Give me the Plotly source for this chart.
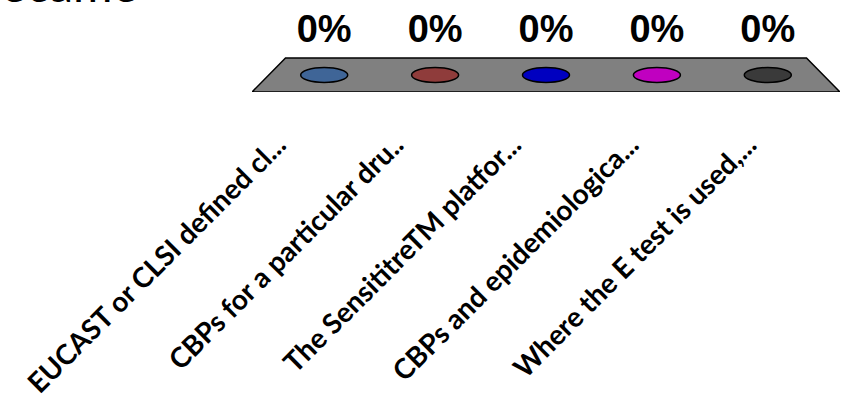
import plotly.graph_objects as go

# Answer options (truncated as shown on the slide) and the share of votes each received
categories = [
    "EUCAST or CLSI defined cl...",
    "CBPs for a particular dru..",
    "The SensititreTM platfor...",
    "CBPs and epidemiologica...",
    "Where the E test is used,...",
]
values = [0, 0, 0, 0, 0]
bar_colors = ["#3F6597", "#8F3C3B", "#0000C0", "#C000C0", "#3A3A3A"]
title_fragment = "became"

n = len(categories)
center = (n - 1) / 2
back_ratio = 0.886          # width of the floor's back edge relative to its front edge
mid_ratio = (1 + back_ratio) / 2
floor_depth = 34            # vertical extent of the floor (y units)
bar_scale = 0.5             # y units per percentage point
cap_w, cap_h = 0.2, 7.5     # half-width / half-height of the cylinder tops

fig = go.Figure()

# Perspective floor
fx = [-0.5, n - 0.5, center + (n / 2) * back_ratio, center - (n / 2) * back_ratio, -0.5]
fy = [0, 0, floor_depth, floor_depth, 0]
fig.add_trace(go.Scatter(
    x=fx, y=fy, mode="lines", fill="toself", fillcolor="#808080",
    line=dict(color="black", width=1.5), hoverinfo="skip", showlegend=False,
))

# Cylinder tops (bars at 0% collapse to their top ellipse)
xc = [center + (i - center) * mid_ratio for i in range(n)]
yc = [floor_depth / 2 + v * bar_scale for v in values]
for x, y, c in zip(xc, yc, bar_colors):
    fig.add_shape(
        type="circle", xref="x", yref="y",
        x0=x - cap_w, x1=x + cap_w, y0=y - cap_h, y1=y + cap_h,
        fillcolor=c, line=dict(color="black", width=1.5),
    )

# Percentage labels above each bar
fig.add_trace(go.Scatter(
    x=xc, y=[y + 43 for y in yc], mode="text",
    text=[f"{v:.0f}%" for v in values],
    textfont=dict(family="Liberation Sans", size=38, color="black", weight="bold"),
    textposition="middle center", hoverinfo="skip", showlegend=False, cliponaxis=False,
))

# Slide title running off the top edge; only its lower strip shows
fig.add_annotation(
    text=title_fragment, xref="paper", yref="paper", x=0, y=1,
    xanchor="left", yanchor="bottom", xshift=-280, yshift=-14, showarrow=False,
    font=dict(family="Lato", size=48, color="black"),
)

fig.update_xaxes(
    range=[-0.5, n - 0.5], tickmode="array", tickvals=list(range(n)), ticktext=categories,
    tickangle=-45, showgrid=False, zeroline=False, showline=False, ticks="",
    tickfont=dict(family="Lato", size=28, color="black", weight="bold"),
    ticklabelstandoff=30, ticklabelshift=-33,
)
fig.update_yaxes(range=[0, 92], visible=False, fixedrange=True)

fig.update_layout(
    width=848, height=401,
    margin=dict(l=252, r=8, t=0, b=309, pad=0),
    plot_bgcolor="white", paper_bgcolor="white",
    showlegend=False,
)

fig.write_html("out.html")
